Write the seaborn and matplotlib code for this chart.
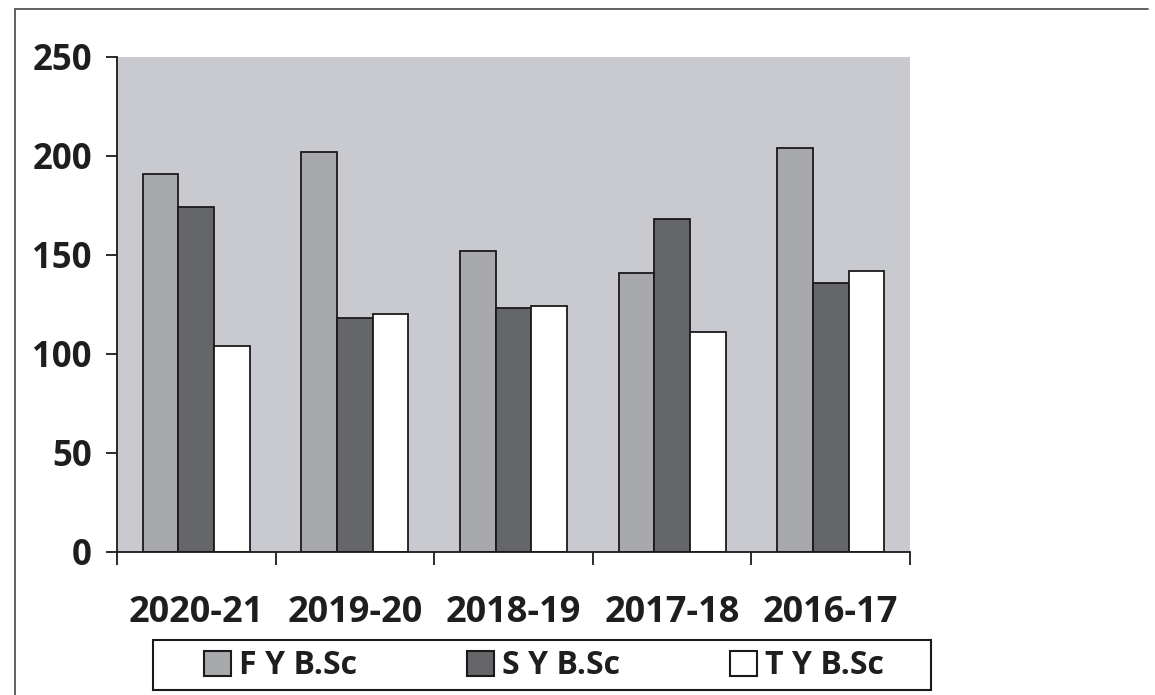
import matplotlib
matplotlib.use("Agg")
import matplotlib.pyplot as plt
import seaborn as sns
import pandas as pd
from matplotlib.lines import Line2D
from matplotlib.patches import Rectangle

categories = ["2020-21", "2019-20", "2018-19", "2017-18", "2016-17"]
series_names = ["F Y B.Sc", "S Y B.Sc", "T Y B.Sc"]
fy_values = [191, 202, 152, 141, 204]
sy_values = [174, 118, 123, 168, 136]
ty_values = [104, 120, 124, 111, 142]
y_ticks = [0, 50, 100, 150, 200, 250]

rows = []
for name, vals in zip(series_names, [fy_values, sy_values, ty_values]):
    for c, v in zip(categories, vals):
        rows.append({"Year": c, "Series": name, "Value": v})
df = pd.DataFrame(rows)

sns.set_theme(style="white")
plt.rcParams["font.family"] = ["Open Sans", "DejaVu Sans"]
plt.rcParams["font.weight"] = "bold"

W, H = 1155, 695
fig = plt.figure(figsize=(W / 100, H / 100), dpi=100)
fig.patch.set_facecolor("white")
ax = fig.add_axes([117 / W, 1 - 551.7 / H, (910 - 117) / W, (551.7 - 57) / H])
ax.set_facecolor("#c9cacf")

palette = {"F Y B.Sc": "#a7a9ad", "S Y B.Sc": "#646669", "T Y B.Sc": "#ffffff"}
sns.barplot(data=df, x="Year", y="Value", hue="Series", order=categories,
            hue_order=series_names, palette=palette, width=0.674,
            edgecolor="#1a1a1a", linewidth=1.3, saturation=1, ax=ax)

ax.set_xlim(-0.5, 4.5)
ax.set_ylim(0, 250)
ax.set_yticks(y_ticks)
ax.set_yticklabels([str(t) for t in y_ticks], fontsize=25, fontweight="bold", color="#1e1e1e")
ax.set_xticks(range(len(categories)))
ax.set_xticklabels(categories, fontsize=26, fontweight="bold", color="#1e1e1e")
ax.set_xticks([i - 0.5 for i in range(len(categories) + 1)], minor=True)
ax.tick_params(axis="x", which="major", length=0, pad=31)
ax.tick_params(axis="x", which="minor", length=9, width=1.3, color="#1a1a1a", direction="out", bottom=True)
ax.tick_params(axis="y", which="major", length=8, width=1.3, color="#1a1a1a", direction="out", left=True, pad=10)
ax.set_xlabel("")
ax.set_ylabel("")
for s in ["top", "right"]:
    ax.spines[s].set_visible(False)
for s in ["left", "bottom"]:
    ax.spines[s].set_color("#1a1a1a")
    ax.spines[s].set_linewidth(1.3)

handles, labels = ax.get_legend_handles_labels()
if ax.legend_:
    ax.legend_.remove()
for h in handles:
    h.set_edgecolor("#1a1a1a")
    h.set_linewidth(1.5)
leg = fig.legend(handles, labels, loc="center", ncol=3,
                 bbox_to_anchor=(544 / W, 1 - 666 / H),
                 frameon=False,
                 prop={"family": ["Open Sans", "DejaVu Sans"], "weight": "bold", "size": 23},
                 handlelength=0.85, handleheight=0.85, handletextpad=0.25,
                 columnspacing=3.45, borderaxespad=0, borderpad=0)
for t in leg.get_texts():
    t.set_color("#1e1e1e")

# legend box
fig.add_artist(Rectangle((153 / W, 1 - 690 / H), (931 - 153) / W, (690 - 639.5) / H,
                         transform=fig.transFigure, fill=False, edgecolor="#1a1a1a", lw=1.5))

# outer frame lines (left and top)
fig.add_artist(Line2D([15 / W, 15 / W], [0, 1 - 9 / H], transform=fig.transFigure, color="#555555", lw=1.3))
fig.add_artist(Line2D([15 / W, 1148 / W], [1 - 9 / H, 1 - 9 / H], transform=fig.transFigure, color="#555555", lw=1.3))

fig.savefig("out.png", dpi=100)
